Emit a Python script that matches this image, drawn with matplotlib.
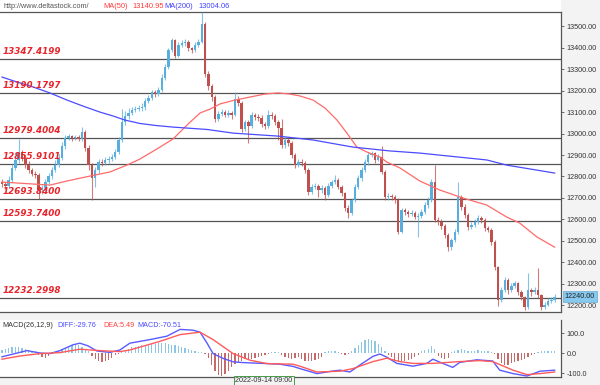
import matplotlib
matplotlib.use("Agg")
import matplotlib.pyplot as plt

# price candles (opens are the previous close)
first_open = 12775
closes = [12765, 12756, 12784, 12840, 12877, 12914, 12886, 12853, 12830, 12812,
          12807, 12737, 12746, 12774, 12802, 12830, 12853, 12886, 12942, 12979,
          12988, 12979, 12984, 12975, 13007, 12933, 12853, 12793, 12830, 12867,
          12863, 12877, 12881, 12891, 12914, 12970, 13054, 13082, 13096, 13110,
          13114, 13119, 13124, 13152, 13166, 13193, 13184, 13203, 13259, 13310,
          13389, 13436, 13361, 13412, 13422, 13426, 13398, 13389, 13412, 13426,
          13510, 13277, 13221, 13170, 13068, 13091, 13100, 13086, 13096, 13086,
          13161, 13142, 13021, 13054, 13035, 13086, 13077, 13072, 13044, 13035,
          13086, 13082, 13054, 13026, 12947, 12970, 12956, 12900, 12853, 12867,
          12863, 12830, 12728, 12751, 12756, 12737, 12746, 12714, 12756, 12774,
          12784, 12751, 12723, 12653, 12630, 12690, 12751, 12793, 12830, 12867,
          12900, 12909, 12877, 12891, 12821, 12704, 12709, 12704, 12690, 12541,
          12644, 12635, 12625, 12630, 12611, 12616, 12635, 12667, 12690, 12774,
          12597, 12588, 12570, 12527, 12471, 12504, 12541, 12704, 12658, 12620,
          12565, 12574, 12588, 12607, 12597, 12560, 12551, 12495, 12378, 12225,
          12271, 12318, 12271, 12290, 12304, 12262, 12239, 12192, 12271, 12262,
          12271, 12248, 12192, 12201, 12220, 12225, 12240]
highs = [12790, 12775, 12800, 12860, 12895, 12975, 12925, 12900, 12870, 12840,
         12825, 12815, 12760, 12790, 12815, 12845, 12875, 12905, 12960, 12995,
         13000, 12995, 12995, 12995, 13030, 13015, 12945, 12865, 12845, 12880,
         12880, 12890, 12895, 12905, 12930, 12985, 13114, 13105, 13120, 13125,
         13130, 13135, 13140, 13165, 13180, 13205, 13205, 13215, 13275, 13325,
         13400, 13445, 13440, 13425, 13435, 13440, 13435, 13405, 13425, 13440,
         13566, 13520, 13290, 13230, 13180, 13105, 13115, 13110, 13110, 13105,
         13193, 13175, 13150, 13065, 13065, 13100, 13095, 13090, 13085, 13055,
         13110, 13100, 13090, 13065, 13068, 12985, 12980, 12965, 12910, 12880,
         12880, 12870, 12840, 12765, 12770, 12765, 12760, 12755, 12770, 12785,
         12805, 12795, 12760, 12730, 12665, 12700, 12765, 12805, 12845, 12880,
         12915, 12920, 12915, 12905, 12940, 12830, 12725, 12720, 12715, 12700,
         12655, 12655, 12645, 12645, 12640, 12630, 12650, 12680, 12705, 12790,
         12853, 12610, 12600, 12580, 12535, 12515, 12555, 12774, 12715, 12670,
         12630, 12590, 12600, 12620, 12615, 12605, 12570, 12560, 12505, 12385,
         12285, 12330, 12325, 12305, 12315, 12310, 12270, 12245, 12350, 12280,
         12285, 12374, 12255, 12215, 12235, 12240, 12255]
lows = [12750, 12740, 12745, 12775, 12830, 12865, 12870, 12840, 12815, 12800,
        12795, 12695, 12720, 12735, 12765, 12790, 12820, 12845, 12875, 12930,
        12970, 12965, 12970, 12965, 12965, 12920, 12830, 12690, 12750, 12815,
        12850, 12855, 12865, 12870, 12880, 12905, 12960, 13040, 13070, 13085,
        13100, 13105, 13105, 13110, 13140, 13155, 13170, 13175, 13195, 13250,
        13300, 13380, 13350, 13355, 13405, 13410, 13385, 13375, 13380, 13405,
        13420, 13265, 13205, 13150, 13055, 13060, 13080, 13075, 13075, 13070,
        13080, 13130, 13005, 13010, 12956, 13025, 13065, 13060, 13030, 13020,
        13025, 13070, 13040, 12970, 12935, 12935, 12940, 12885, 12840, 12845,
        12850, 12815, 12715, 12720, 12740, 12705, 12725, 12690, 12705, 12745,
        12765, 12740, 12710, 12640, 12605, 12620, 12680, 12740, 12780, 12820,
        12855, 12890, 12865, 12870, 12810, 12690, 12690, 12690, 12675, 12530,
        12535, 12620, 12610, 12615, 12600, 12520, 12605, 12625, 12655, 12680,
        12590, 12575, 12555, 12515, 12455, 12460, 12495, 12530, 12645, 12605,
        12550, 12555, 12565, 12580, 12585, 12545, 12540, 12480, 12365, 12197,
        12215, 12260, 12255, 12260, 12280, 12250, 12225, 12180, 12185, 12245,
        12255, 12235, 12180, 12185, 12195, 12210, 12215]

# moving averages read at points along the lines (x = candle index)
ma50_x = [0, 9.3, 14.4, 19.5, 26.4, 32.4, 37.5, 41.4, 46.5, 51.4, 55.6, 59.5, 62.5,
          65.5, 70, 74.5, 79, 82.9, 86.5, 89.5, 93.4, 97, 100.6, 103.6, 106.6, 109.6,
          113.5, 115.6, 119.5, 125.5, 131.5, 138.4, 145.6, 151.6, 155.5, 160.7, 166]
ma50 = [12774, 12765, 12760, 12779, 12802, 12821, 12853, 12881, 12928, 12975, 13040,
        13096, 13114, 13138, 13156, 13170, 13184, 13189, 13184, 13175, 13156, 13119,
        13063, 13002, 12937, 12914, 12891, 12867, 12840, 12779, 12737, 12700, 12667,
        12611, 12583, 12518, 12471]
ma200_x = [0, 4.5, 9.3, 14.4, 19.5, 24.3, 29.4, 33.3, 36.9, 41.4, 46.5, 51.4, 61.6,
           69.4, 83, 93.4, 105.4, 116.5, 125.5, 145.6, 151.6, 166]
ma200 = [13263, 13240, 13217, 13189, 13156, 13128, 13100, 13082, 13063, 13047, 13037,
         13030, 13019, 13002, 12988, 12970, 12937, 12919, 12909, 12877, 12853, 12816]

levels = [13347.4199, 13190.1797, 12979.4004, 12855.9101, 12693.8400, 12593.7400, 12232.2998]
price_ticks = [12200, 12300, 12400, 12500, 12600, 12700, 12800, 12900,
               13000, 13100, 13200, 13300, 13400, 13500]

# MACD panel
diff_x = [0, 7.5, 11.4, 14.4, 17.4, 21.3, 23.4, 25.8, 28.5, 32.4, 35.4, 38.4, 44.4,
          49.5, 53.5, 57.4, 59.5, 61.6, 63.4, 66.4, 69.4, 72.4, 75.4, 79.6, 83.5,
          87.4, 89.5, 94.6, 99.4, 101.5, 104.5, 107.5, 111.4, 113.5, 115.6, 118.6,
          123.4, 127.6, 129.4, 132.4, 135.4, 137.5, 142.6, 147.4, 149.5, 153.5,
          157.7, 161.6, 166]
diff = [-19, 12, 0, -3, 12, 41, 49, 36, 10, 3, 15, 49, 67, 84, 118, 114, 104, 49, -3,
        -27, -44, -48, -50, -53, -56, -67, -78, -103, -90, -86, -95, -60, -17, -5,
        -21, -52, -66, -52, -31, -52, -72, -47, -34, -40, -86, -103, -115, -91, -86]
dea_x = [0, 5.4, 11.4, 17.4, 23.4, 29.4, 35.4, 38.4, 47.4, 53.5, 59.5, 63.4, 69.4,
         74.5, 79.6, 87.4, 89.5, 94.6, 101.5, 105.4, 111.4, 115.6, 119.5, 123.4,
         129.4, 137.5, 143.5, 147.4, 153.5, 157.7, 161.6, 166]
dea = [-31, -15, -3, 2, 19, 12, 7, 15, 58, 92, 104, 67, -3, -36, -53, -56, -66, -95,
       -91, -78, -43, -26, -43, -52, -52, -43, -38, -43, -86, -108, -103, -95]
hist = [15, 20, 25, 28, 30, 28, 25, 22,
        15, 10, 8,
        -10, -20, -25, -15,
        5, 5,
        10, 18, 25, 32, 38, 40, 38, 30, 20,
        8,
        -15, -30, -40, -45, -42, -35, -25, -12,
        -3, 5,
        15, 22, 28, 32, 36, 38, 40, 42, 44, 46, 48, 50, 48, 45, 42, 38, 34, 30, 25,
        20, 15, 10, 6, 3,
        -5, -25,
        -60, -90, -110, -115, -105, -90,
        -70, -55, -45, -38,
        -32, -30, -28, -25, -20, -15, -10, -5,
        3, 5, 4,
        -10, -20, -25, -28, -25, -22,
        -30, -38, -42, -40, -36, -30, -20,
        5, 8, 10, 8, 5,
        -5, -8, -5,
        10, 25, 40, 55, 65, 68, 65, 58, 45, 30, 12,
        -8, -20,
        -35, -40, -42, -40, -36, -30, -22, -12,
        8, 15, 22, 35, 20,
        -15, -25, -30, -25,
        5, 10, 15, 18, 15, 12, 10, 12, 15, 12, 10, 8, 5, -5,
        -30, -50, -60, -58, -52, -45, -40, -35, -28, -20, -12, -5,
        5, 10, 12, 12, 10, 12]

UP = "#58afdd"
DOWN = "#c0504d"
W, H = 600, 385
FONT = "Liberation Sans"

fig = plt.figure(figsize=(6, 3.85), dpi=100, facecolor="#f3f3f3")

def box(x0, y0, x1, y1):
    # pixel box (top-left origin) -> figure fraction rect
    return [x0 / W, 1 - y1 / H, (x1 - x0) / W, (y1 - y0) / H]

# white header strip
hdr = fig.add_axes(box(0, 0, 561, 12))
hdr.axis("off")
hdr.add_patch(plt.Rectangle((0, 0), 1, 1, transform=hdr.transAxes, color="white"))

ax = fig.add_axes(box(0, 12, 561, 312))
ax.set_facecolor("white")
n = len(closes)
xs = list(range(n))
opens = [first_open] + closes[:-1]
cols = [UP if c >= o else DOWN for o, c in zip(opens, closes)]
ax.vlines(xs, lows, highs, colors=cols, lw=0.8, alpha=0.75, zorder=3)
bottoms = [min(o, c) for o, c in zip(opens, closes)]
heights = [max(abs(c - o), 3) for o, c in zip(opens, closes)]
ax.bar(xs, heights, bottom=bottoms, width=0.74, color=cols, lw=0, zorder=4)

ax.plot(ma50_x, ma50, color="#ff6a6a", lw=0.9, zorder=5)
ax.plot(ma200_x, ma200, color="#4b4bff", lw=0.9, zorder=5)

for lv in levels:
    ax.axhline(lv, color="#555555", lw=0.9, zorder=2)
    ax.annotate(f"{lv:.4f}", (0.004, lv), xycoords=("axes fraction", "data"),
                xytext=(0, 2.2), textcoords="offset points", ha="left", va="bottom",
                color="#e8232a", fontsize=6.3, fontweight="bold", fontstyle="italic",
                family="DejaVu Sans", zorder=6)

ax.set_xlim(-0.6, 167.9)
ax.set_ylim(12169, 13566)
ax.set_xticks([])
ax.yaxis.tick_right()
ax.set_yticks(price_ticks)
ax.set_yticklabels([f"{t:.2f}" for t in price_ticks], fontsize=5.2, family=FONT,
                   color="#333333")
ax.tick_params(axis="y", length=2.5, width=0.6, color="#555555", pad=1.5)
ax.spines["left"].set_visible(False)
for s in ["top", "right", "bottom"]:
    ax.spines[s].set_color("#555555")
    ax.spines[s].set_linewidth(0.9)

ax.annotate("12240.00", (1.0, closes[-1]), xycoords=("axes fraction", "data"),
            xytext=(2.5, 0), textcoords="offset points", ha="left", va="center",
            fontsize=5.2, family=FONT, color="#222222", zorder=7, annotation_clip=False,
            bbox=dict(boxstyle="square,pad=0.25", fc="#87c8ee", ec="#6aa8d0", lw=0.5))

# header texts
fig.text(3 / W, 1 - 6 / H, "http://www.deltastock.com/", fontsize=5.2, family=FONT,
         color="#555555", va="center")
fig.text(103 / W, 1 - 6 / H, "MA(50)", fontsize=5.4, family=FONT, color="#ff3b3b", va="center")
fig.text(132 / W, 1 - 6 / H, "13140.95", fontsize=5.4, family=FONT, color="#ff3b3b", va="center")
fig.text(164 / W, 1 - 6 / H, "MA(200)", fontsize=5.4, family=FONT, color="#4040ff", va="center")
fig.text(198 / W, 1 - 6 / H, "13004.06", fontsize=5.4, family=FONT, color="#4040ff", va="center")

# MACD panel
mx = fig.add_axes(box(0, 320, 561, 377))
mx.set_facecolor("white")
hcols = ["#8cc6e4" if v >= 0 else "#c46a6a" for v in hist]
mx.bar(xs, hist, width=0.38, color=hcols, lw=0, zorder=2)
mx.plot(diff_x, diff, color="#5a5aff", lw=1.0, zorder=3)
mx.plot(dea_x, dea, color="#ff5a5a", lw=1.0, zorder=3)
mx.set_xlim(-0.6, 167.9)
mx.set_ylim(-120, 165)
mx.set_xticks([])
mx.yaxis.tick_right()
mx.set_yticks([100, 0, -100])
mx.set_yticklabels(["100.0", "0.0", "-100.0"], fontsize=5.2, family=FONT, color="#333333")
mx.tick_params(axis="y", length=2.5, width=0.6, color="#555555", pad=1.5)
for s in ["left", "top"]:
    mx.spines[s].set_visible(False)
for s in ["right", "bottom"]:
    mx.spines[s].set_color("#555555")
    mx.spines[s].set_linewidth(0.9)

mx.text(0.005, 0.9, "MACD(26,12,9)", transform=mx.transAxes, fontsize=5.2, family=FONT,
        color="#333333", va="center")
mx.text(0.103, 0.9, "DIFF:-29.76", transform=mx.transAxes, fontsize=5.2, family=FONT,
        color="#4a4aff", va="center")
mx.text(0.185, 0.9, "DEA:5.49", transform=mx.transAxes, fontsize=5.2, family=FONT,
        color="#ff4040", va="center")
mx.text(0.245, 0.9, "MACD:-70.51", transform=mx.transAxes, fontsize=5.2, family=FONT,
        color="#4a4aff", va="center")

# time label at the bottom
fig.text(264 / W, 1 - 381 / H, "2022-09-14 09:00", fontsize=5.2, family=FONT, color="#333333",
         ha="center", va="center",
         bbox=dict(boxstyle="square,pad=0.15", fc="#f3f3f3", ec="#2e8b2e", lw=0.6))

fig.savefig("out.png", dpi=100, facecolor=fig.get_facecolor())
